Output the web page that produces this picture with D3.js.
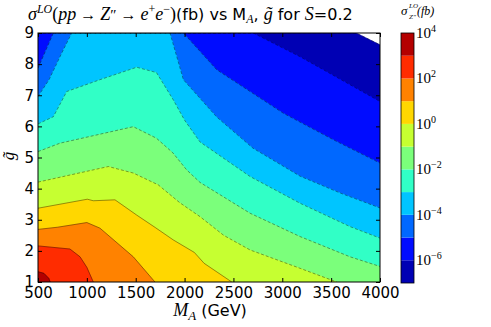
<!DOCTYPE html>
<html>
<head>
<meta charset="utf-8">
<script src="https://d3js.org/d3.v7.min.js"></script>
<style>
  body { margin: 0; background: #fff; }
  svg text { font-family: "DejaVu Sans", sans-serif; fill: #000; }
  .math { font-family: "Liberation Serif", serif; font-style: italic; }
  .rm { font-family: "Liberation Serif", serif; font-style: normal; }
</style>
</head>
<body>
<svg width="491" height="327"></svg>
<script>
// axis ticks
const massTicks = [500, 1000, 1500, 2000, 2500, 3000, 3500, 4000];
const gTicks = [1, 2, 3, 4, 5, 6, 7, 8, 9];

// log10(sigma/fb) contour levels and the jet colour of the band above each
const levels = [-7, -6, -5, -4, -3, -2, -1, 0, 1, 2, 3];
const bandColors = ["#0000b4", "#000cff", "#0068ff", "#00c5ff", "#31ffc6",
                    "#7bff7b", "#c6ff31", "#ffd700", "#ff8200", "#ff2c00", "#b40000"];
const cbarTicks = [-6, -4, -2, 0, 2, 4];

// contour lines, [M_A (GeV), g~]
const lineM7 = [[500, 9], [3757, 9], [4000, 8.62]];
const lineM6 = [[500, 9], [2703, 9], [3182, 8.24], [4000, 6.8]];
const lineM5 = [[500, 7.87], [657, 9], [1988, 9], [2329, 7.82], [3012, 6.42], [3523, 5.57], [4000, 4.82]];
const lineM4 = [[500, 6.96], [613, 7.5], [742, 8.35], [845, 9], [1851, 9], [1988, 7.5], [2329, 6.3],
                [2700, 5.3], [3182, 4.4], [3600, 3.85], [4000, 3.38]];
const lineM3 = [[500, 6.08], [657, 6.31], [794, 7.12], [1134, 7.5], [1510, 7.9], [1712, 7.73],
                [1885, 6.85], [2000, 6.2], [2158, 5.5], [2670, 4.39], [3182, 3.53], [3693, 2.78], [4000, 2.41]];
const lineM2 = [[500, 5.19], [725, 5.46], [1475, 5.99], [1712, 5.62], [1880, 5.15], [2022, 4.6],
                [2158, 4.2], [2670, 3.21], [3182, 2.46], [3693, 1.81], [4000, 1.5]];
const lineM1 = [[500, 4.21], [1220, 4.71], [1476, 4.5], [1731, 4.12], [1950, 3.55], [2158, 3.1],
                [2400, 2.5], [2670, 2.03], [3182, 1.44], [3557, 1]];
const line0 = [[500, 3.37], [1005, 3.66], [1066, 3.61], [1288, 3.64], [1510, 3.15], [1700, 2.75],
               [1885, 2.35], [2100, 1.95], [2200, 1.6], [2483, 1]];
const line1 = [[500, 2.69], [700, 2.76], [1000, 2.91], [1134, 2.73], [1475, 1.81], [1697, 1]];
const line2 = [[500, 2.16], [827, 2.06], [930, 1.81], [1000, 1.47], [1066, 1]];
const line3 = [[500, 1.33], [560, 1.28], [610, 1.12], [625, 1]];
const contourLines = [lineM7, lineM6, lineM5, lineM4, lineM3, lineM2, lineM1, line0, line1, line2, line3];

const svg = d3.select("svg");
const x = d3.scaleLinear().domain([500, 4000]).range([38, 380]);
const y = d3.scaleLinear().domain([1, 9]).range([282, 33]);

svg.append("clipPath").attr("id", "plotclip")
  .append("rect").attr("x", 38).attr("y", 33).attr("width", 342).attr("height", 249);

const plot = svg.append("g").attr("clip-path", "url(#plotclip)");
plot.append("rect").attr("x", 38).attr("y", 33).attr("width", 342).attr("height", 249).attr("fill", "#fff");

// filled bands: everything under a level's line is at or above that level
const area = d3.area().x(d => x(d[0])).y0(y(1)).y1(d => y(d[1]));
plot.selectAll("path.band")
  .data(contourLines)
  .enter().append("path")
  .attr("class", "band")
  .attr("d", area)
  .attr("fill", (d, i) => bandColors[i])
  .attr("stroke", (d, i) => bandColors[i])
  .attr("stroke-width", 0.5);

// contour lines, dashed for negative levels
const line = d3.line().x(d => x(d[0])).y(d => y(d[1]));
plot.selectAll("path.cline")
  .data(contourLines)
  .enter().append("path")
  .attr("class", "cline")
  .attr("d", line)
  .attr("fill", "none")
  .attr("stroke", "rgba(0,0,0,0.55)")
  .attr("stroke-width", 0.7)
  .attr("stroke-dasharray", (d, i) => levels[i] < 0 ? "3,2" : null);

// axes, ticks pointing inwards on all four sides
function axis(gen, tx, ty, labels) {
  const g = svg.append("g").attr("transform", `translate(${tx},${ty})`).call(gen);
  g.select(".domain").remove();
  g.selectAll("text").style("font-size", "15px").style("font-family", "DejaVu Sans");
  if (!labels) g.selectAll("text").remove();
  return g;
}
axis(d3.axisBottom(x).tickValues(massTicks).tickFormat(d3.format("d")).tickSize(-4).tickPadding(5), 0, 282, true);
axis(d3.axisTop(x).tickValues(massTicks).tickSize(-4), 0, 33, false);
axis(d3.axisLeft(y).tickValues(gTicks).tickSize(-4).tickPadding(4), 38, 0, true);
axis(d3.axisRight(y).tickValues(gTicks).tickSize(-4), 380, 0, false);

svg.append("rect").attr("x", 38).attr("y", 33).attr("width", 342).attr("height", 249)
  .attr("fill", "none").attr("stroke", "#000").attr("stroke-width", 1);

// axis labels
const xl = svg.append("text").attr("x", 210).attr("y", 316).attr("text-anchor", "middle").style("font-size", "16px");
xl.append("tspan").attr("class", "math").style("font-size", "18px").text("M");
xl.append("tspan").attr("class", "math").attr("dy", 4).style("font-size", "13px").text("A");
xl.append("tspan").attr("dy", -4).text(" (GeV)");

svg.append("text").attr("class", "math")
  .attr("transform", "translate(14,156) rotate(-90)")
  .attr("text-anchor", "middle").style("font-size", "17px").text("g\u0303");

// title
const parts = [
  ["σ", "math", 0, 18], ["LO", "math", -7, 12], ["(", "rm", 0, 18], ["pp", "math", 0, 18],
  [" → ", "rm", 0, 16], ["Z", "math", 0, 18], ["″", "rm", 0, 15], [" → ", "rm", 0, 16],
  ["e", "math", 0, 18], ["+", "rm", -7, 12], ["e", "math", 0, 18], ["−", "rm", -7, 12],
  [")", "rm", 0, 18], ["(fb) vs M", null, 0, 16], ["A", "math", 3, 12], [", ", null, 0, 16],
  ["g\u0303", "math", 0, 18], [" for ", null, 0, 16], ["S", "math", 0, 18], ["=0.2", null, 0, 16]
];
const title = svg.append("text").attr("x", 28).attr("y", 20);
let shift = 0;
parts.forEach(p => {
  title.append("tspan").attr("class", p[1]).attr("dy", p[2] - shift)
    .style("font-size", p[3] + "px").text(p[0]);
  shift = p[2];
});

// colorbar
const yc = d3.scaleLinear().domain([-7, 4]).range([283, 33]);
const cbar = svg.append("g");
cbar.selectAll("rect")
  .data(levels)
  .enter().append("rect")
  .attr("x", 401).attr("width", 13)
  .attr("y", d => yc(d + 1)).attr("height", d => yc(d) - yc(d + 1))
  .attr("fill", (d, i) => bandColors[i]);
cbar.append("rect").attr("x", 401).attr("y", 33).attr("width", 13).attr("height", 250)
  .attr("fill", "none").attr("stroke", "#000").attr("stroke-width", 0.8);
const cl = cbar.selectAll("text.cb")
  .data(cbarTicks)
  .enter().append("text")
  .attr("class", "cb rm")
  .attr("x", 416).attr("y", d => yc(d) + 5)
  .style("font-size", "15px");
cl.append("tspan").text("10");
cl.append("tspan").attr("dy", -6).style("font-size", "10px").text(d => d < 0 ? "−" + (-d) : d);

svg.append("text").attr("class", "math").attr("x", 401).attr("y", 15).style("font-size", "13px").text("σ");
svg.append("text").attr("class", "math").attr("x", 409).attr("y", 8).style("font-size", "7px").text("LO");
svg.append("text").attr("class", "math").attr("x", 409).attr("y", 19).style("font-size", "7px").text("Z″");
svg.append("text").attr("class", "math").attr("x", 417).attr("y", 15).style("font-size", "12px").text("(fb)");
</script>
</body>
</html>
